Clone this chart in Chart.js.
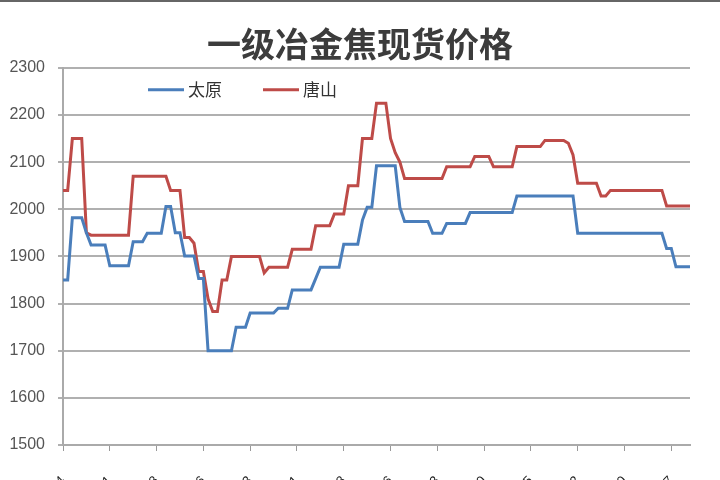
<!DOCTYPE html>
<html lang="zh">
<head>
<meta charset="UTF-8">
<title>一级冶金焦现货价格</title>
<script src="https://cdn.jsdelivr.net/npm/chart.js"></script>
<style>
  html, body { margin: 0; padding: 0; background: #fff; overflow: hidden; }
  #wrap { position: relative; width: 720px; height: 560px; }
  #topline { position: absolute; left: 0; top: 0; width: 720px; height: 2px; background: #666; }
</style>
</head>
<body>
<div id="wrap">
  <canvas id="chart" width="720" height="560"></canvas>
  <div id="topline"></div>
</div>
<script>
  // 太原 / 唐山 价格 (元/吨)
  const taiyuan = [
    1850,1850,1982,1982,1982,1950,1924,1924,1924,1924,
    1880,1880,1880,1880,1880,1931,1931,1931,1949,1949,
    1949,1949,2006,2006,1950,1950,1901,1901,1901,1853,
    1853,1700,1700,1700,1700,1700,1700,1750,1750,1750,
    1780,1780,1780,1780,1780,1780,1790,1790,1790,1829,
    1829,1829,1829,1829,1853,1877,1877,1877,1877,1877,
    1926,1926,1926,1926,1977,2004,2004,2092,2092,2092,
    2092,2092,2004,1974,1974,1974,1974,1974,1974,1949,
    1949,1949,1970,1970,1970,1970,1970,1993,1993,1993,
    1993,1993,1993,1993,1993,1993,1993,2028,2028,2028,
    2028,2028,2028,2028,2028,2028,2028,2028,2028,2028,
    1949,1949,1949,1949,1949,1949,1949,1949,1949,1949,
    1949,1949,1949,1949,1949,1949,1949,1949,1949,1917,
    1917,1878,1878,1878,1878
  ];
  const tangshan = [
    2040,2040,2150,2150,2150,1950,1945,1945,1945,1945,
    1945,1945,1945,1945,1945,2070,2070,2070,2070,2070,
    2070,2070,2070,2040,2040,2040,1940,1940,1928,1868,
    1868,1810,1783,1783,1850,1850,1900,1900,1900,1900,
    1900,1900,1900,1865,1877,1877,1877,1877,1877,1915,
    1915,1915,1915,1915,1965,1965,1965,1965,1990,1990,
    1990,2050,2050,2050,2150,2150,2150,2225,2225,2225,
    2150,2120,2100,2065,2065,2065,2065,2065,2065,2065,
    2065,2065,2090,2090,2090,2090,2090,2090,2112,2112,
    2112,2112,2090,2090,2090,2090,2090,2133,2133,2133,
    2133,2133,2133,2146,2146,2146,2146,2146,2140,2115,
    2055,2055,2055,2055,2055,2028,2028,2040,2040,2040,
    2040,2040,2040,2040,2040,2040,2040,2040,2040,2007,
    2007,2007,2007,2007,2007
  ];
  // 每10个点一个刻度标签(图中被截掉, 仅露出顶部)
  const tickLabels = [
    '2012-01-04','2012-01-31','2012-02-28','2012-03-26','2012-04-23',
    '2012-05-21','2012-06-18','2012-07-16','2012-08-13','2012-09-10',
    '2012-10-15','2012-11-12','2012-12-10','2013-01-07'
  ];
  const categories = taiyuan.map((v, i) => String(i));

  // 图例画在绘图区里面
  const legendInside = {
    id: 'legendInside',
    afterDatasetsDraw(chart) {
      const { ctx, chartArea } = chart;
      const y = chartArea.top + 22;
      const starts = [chartArea.left + 85, chartArea.left + 200];
      chart.data.datasets.forEach((ds, k) => {
        const x = starts[k];
        ctx.save();
        ctx.strokeStyle = ds.borderColor;
        ctx.lineWidth = 3;
        ctx.beginPath();
        ctx.moveTo(x, y);
        ctx.lineTo(x + 36, y);
        ctx.stroke();
        ctx.fillStyle = '#333';
        ctx.font = '17px "Noto Sans CJK SC"';
        ctx.textBaseline = 'middle';
        ctx.fillText(ds.label, x + 40, y);
        ctx.restore();
      });
    }
  };

  const ctx = document.getElementById('chart').getContext('2d');
  const chart = new Chart(ctx, {
    type: 'line',
    data: {
      labels: categories,
      datasets: [
        { label: '太原', data: taiyuan, borderColor: '#4a7ebb', borderWidth: 3, pointRadius: 0, fill: false, tension: 0 },
        { label: '唐山', data: tangshan, borderColor: '#be4b48', borderWidth: 3, pointRadius: 0, fill: false, tension: 0 }
      ]
    },
    options: {
      responsive: false,
      animation: false,
      layout: { padding: 0 },
      plugins: {
        legend: { display: false },
        tooltip: { enabled: false },
        title: {
          display: true,
          text: '一级冶金焦现货价格',
          color: '#3c3c3c',
          font: { family: '"Noto Sans CJK SC"', size: 34, weight: 'bold' },
          padding: { top: 24, bottom: 3 }
        }
      },
      scales: {
        x: {
          offset: false,
          afterFit(scale) {
            scale.height = 115;
            scale.paddingLeft = 0;
            scale.paddingRight = 0;
          },
          grid: {
            drawOnChartArea: false,
            drawTicks: true,
            tickLength: 6,
            color: c => c.index % 10 === 0 ? '#999' : 'rgba(0,0,0,0)'
          },
          border: { color: '#aaa', width: 2 },
          ticks: {
            autoSkip: false,
            minRotation: 45,
            maxRotation: 45,
            padding: 22,
            color: '#222',
            font: { family: 'Liberation Sans', size: 13 },
            callback: (v, i) => i % 10 === 0 ? tickLabels[i / 10] : ''
          }
        },
        y: {
          min: 1500,
          max: 2300,
          afterFit(scale) { scale.width = 63; },
          grid: { color: '#b0b0b0', lineWidth: 2, tickLength: 5 },
          border: { color: '#aaa', width: 2 },
          ticks: {
            stepSize: 100,
            padding: 13,
            color: '#555',
            font: { family: 'Liberation Sans', size: 16 },
            callback: v => String(v)
          }
        },
        // 右侧留白用的空轴
        yRight: {
          position: 'right',
          afterFit(scale) { scale.width = 30; },
          grid: { display: false },
          border: { display: false },
          ticks: { display: false }
        }
      }
    },
    plugins: [legendInside]
  });
</script>
</body>
</html>
